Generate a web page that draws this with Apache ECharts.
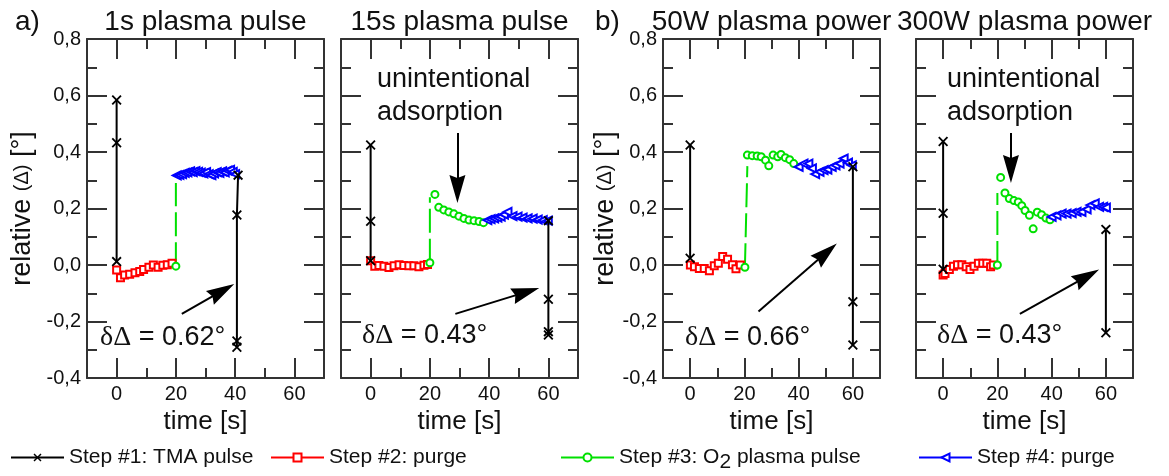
<!DOCTYPE html>
<html><head><meta charset="utf-8">
<script src="https://cdn.jsdelivr.net/npm/echarts@6/dist/echarts.min.js"></script>
<style>html,body{margin:0;padding:0;background:#fff}#c{width:1169px;height:476px}</style>
</head><body><div id="c"></div>
<script>
const FONT = '"Liberation Sans", Arial, Helvetica, sans-serif';
const SERIF = '"Liberation Serif", "Times New Roman", serif';

// ---- labels ----
const panelTitles = ['1s plasma pulse', '15s plasma pulse', '50W plasma power', '300W plasma power'];
const groupLabels = ['a)', 'b)'];
const xTickLabels = [0, 20, 40, 60];
const S1 = 'Step #1: TMA pulse', S2 = 'Step #2: purge', S3 = 'Step #3: O2 plasma pulse', S4 = 'Step #4: purge';
const deltaValues = ['0.62°', '0.43°', '0.66°', '0.43°'];

// ---- panel 1: 1s plasma pulse ----
const p1TmaStart = [[0,0.584],[0,0.433],[0,0.012]];
const p1Purge1 = [[0,-0.018],[1.3,-0.045],[2.7,-0.035],[4.4,-0.033],[6.2,-0.027],[7.8,-0.023],[9.1,-0.016],[10.9,-0.008],[12.4,0.0],[14,-0.008],[15.6,-0.001],[17.1,0.001],[18.7,0.006]];
const p1PlasmaRise = [[20,-0.004],[20,0.29]];
const p1Plasma = [[20,-0.004]];
const p1Purge2 = [[20.3,0.317],[21.2,0.319],[22.1,0.322],[23,0.326],[23.9,0.328],[24.8,0.331],[25.7,0.329],[26.6,0.332],[27.5,0.33],[28.4,0.327],[29.3,0.324],[30.2,0.329],[31.1,0.322],[32,0.318],[32.9,0.324],[33.8,0.329],[34.7,0.326],[35.6,0.331],[36.5,0.328],[37.4,0.334],[38.3,0.337],[39.2,0.33],[40,0.322]];
const p1TmaEnd = [[41,0.318],[40.6,0.177],[40.6,-0.269],[40.6,-0.291]];

// ---- panel 2: 15s plasma pulse ----
const p2TmaStart = [[0,0.425],[0,0.155],[0,0.015]];
const p2Purge1 = [[0,0.015],[1.4,-0.004],[2.8,-0.002],[4.5,-0.004],[6.2,-0.009],[7.9,-0.003],[9.6,0.001],[11.2,-0.002],[12.9,-0.003],[14.6,-0.003],[16.3,-0.006],[18,-0.001],[19.2,0.002]];
const p2PlasmaRise = [[20,0.008],[20,0.24]];
const p2Plasma = [[20,0.008],[21.7,0.25],[23,0.204],[24.7,0.195],[26.4,0.188],[28.1,0.181],[29.8,0.173],[31.5,0.165],[33.2,0.159],[34.9,0.157],[36.6,0.154],[38.1,0.15]];
const p2Purge2 = [[39.4,0.159],[40.5,0.162],[41.7,0.165],[42.8,0.168],[43.9,0.171],[45,0.178],[46.2,0.188],[47.9,0.173],[49.6,0.171],[51.3,0.168],[53,0.165],[54.7,0.164],[56.4,0.161],[58.1,0.159],[59.8,0.157]];
const p2TmaEnd = [[60,0.157],[60,-0.121],[60,-0.236],[60,-0.248]];

// ---- panel 3: 50W plasma power ----
const p3TmaStart = [[0,0.425],[0,0.024]];
const p3Purge1 = [[0.1,0.0],[1.6,-0.006],[3.4,-0.012],[5.2,-0.012],[7.1,-0.02],[8.9,-0.003],[10.4,0.006],[12,0.03],[13.8,0.02],[15.6,0.001],[16.9,-0.013],[18.5,0.0]];
const p3PlasmaRise = [[20.2,-0.008],[21.1,0.35]];
const p3Plasma = [[20.2,-0.008],[21.1,0.389],[22.9,0.387],[24.7,0.386],[26.2,0.383],[27.8,0.371],[29,0.351],[30.6,0.389],[32.3,0.383],[33.5,0.391],[35.1,0.38],[36.7,0.373],[38.2,0.359]];
const p3Purge2 = [[40,0.347],[41.8,0.359],[43.6,0.359],[44.9,0.342],[46.1,0.322],[47.7,0.33],[49.2,0.336],[50.6,0.338],[52.2,0.347],[53.6,0.353],[55.1,0.359],[56.6,0.377],[58.2,0.362],[59.6,0.353]];
const p3TmaEnd = [[60,0.348],[60,-0.13],[60,-0.283]];

// ---- panel 4: 300W plasma power ----
const p4TmaStart = [[0,0.437],[0,0.183],[0,-0.015]];
const p4Purge1 = [[0,-0.035],[0.7,-0.03],[2.3,-0.016],[3.8,-0.004],[5.3,0.001],[6.9,0.001],[8.5,-0.006],[9.9,-0.016],[11.4,-0.004],[13,0.006],[14.6,0.006],[16.1,0.006],[17.5,-0.006],[18.5,0.0]];
const p4PlasmaRise = [[20,0.0],[20,0.255]];
const p4Plasma = [[20,0.0],[21.2,0.31],[22.8,0.255],[24.4,0.235],[26.1,0.228],[27.7,0.223],[29,0.21],[30.2,0.193],[31.8,0.176],[33.2,0.128],[34.7,0.187],[36.3,0.178],[37.9,0.166],[39.4,0.16]];
const p4Purge2 = [[40,0.17],[41.8,0.176],[43.7,0.182],[45.5,0.182],[47.4,0.184],[49.2,0.188],[51,0.188],[52.9,0.197],[54.3,0.212],[55.9,0.218],[57.5,0.206],[59,0.206],[60,0.203]];
const p4TmaEnd = [[60,0.126],[60,-0.24]];

// ---- annotation arrows (data coords: start, head centre) ----
const arrows = [
  [[[22,-0.173],[35.6,-0.092]]],
  [[[28.6,-0.173],[52.4,-0.096]], [[29.3,0.467],[29.3,0.269]]],
  [[[25.2,-0.165],[50.2,0.044]]],
  [[[28.3,-0.173],[53.0,-0.040]], [[25.0,0.467],[25.0,0.340]]]
];

const panels = [
  {tmaS:p1TmaStart, pu1:p1Purge1, rise:p1PlasmaRise, pl:p1Plasma, pu2:p1Purge2, tmaE:p1TmaEnd},
  {tmaS:p2TmaStart, pu1:p2Purge1, rise:p2PlasmaRise, pl:p2Plasma, pu2:p2Purge2, tmaE:p2TmaEnd},
  {tmaS:p3TmaStart, pu1:p3Purge1, rise:p3PlasmaRise, pl:p3Plasma, pu2:p3Purge2, tmaE:p3TmaEnd},
  {tmaS:p4TmaStart, pu1:p4Purge1, rise:p4PlasmaRise, pl:p4Plasma, pu2:p4Purge2, tmaE:p4TmaEnd}
];

const gridBoxes = [{left:87,width:237},{left:341,width:237},{left:663,width:217},{left:916,width:217}];
const BLACK = '#000', RED = '#ff0000', GREEN = '#00e000', BLUE = '#0000ff', AX = '#333';
const XSYM = 'path://M0,1.3 L1.3,0 L5,3.7 L8.7,0 L10,1.3 L6.3,5 L10,8.7 L8.7,10 L5,6.3 L1.3,10 L0,8.7 L3.7,5 Z';
const ARROW = 'path://M8,0 L16,28 L8,25 L0,28 Z';

const grid = gridBoxes.map(g => ({left:g.left, top:39, width:g.width, height:339, containLabel:false}));

const txt = {color:'#111', fontFamily:FONT};
const xAxis = [], yAxis = [];
gridBoxes.forEach((g, i) => {
  ['bottom','top'].forEach(pos => {
    xAxis.push({
      type:'value', gridIndex:i, position:pos, min:-10, max:70, interval:20,
      axisLine:{show:true, onZero:false, lineStyle:{color:AX, width:2}},
      axisTick:{show:true, inside:true, length:10, lineStyle:{color:AX, width:2}},
      minorTick:{show:true, splitNumber:2, length:20, lineStyle:{color:AX, width:2}},
      splitLine:{show:false}, minorSplitLine:{show:false},
      axisLabel: pos === 'bottom' ? Object.assign({show:true, customValues:xTickLabels, margin:6, fontSize:20}, txt) : {show:false},
      name: pos === 'bottom' ? 'time [s]' : '',
      nameLocation:'middle', nameGap:28,
      nameTextStyle: Object.assign({fontSize:26}, txt)
    });
  });
  ['left','right'].forEach(pos => {
    const lab = pos === 'left' && (i === 0 || i === 2);
    yAxis.push({
      type:'value', gridIndex:i, position:pos, min:-0.4, max:0.8, interval:0.2,
      axisLine:{show:true, onZero:false, lineStyle:{color:AX, width:2}},
      axisTick:{show:true, inside:true, length:20, lineStyle:{color:AX, width:2}},
      minorTick:{show:true, splitNumber:2, length:10, lineStyle:{color:AX, width:2}},
      splitLine:{show:false}, minorSplitLine:{show:false},
      axisLabel: lab ? Object.assign({show:true, margin:6, fontSize:20,
        formatter: v => (Math.round(v*10)/10).toFixed(1).replace('.', ',')}, txt) : {show:false},
      name: lab ? '{a|relative }{b|(Δ)}{a| [°]}' : '',
      nameLocation:'middle', nameRotate:90, nameGap: i === 0 ? 51 : 43,
      nameTextStyle: {rich:{a:Object.assign({fontSize:27}, txt), b:Object.assign({fontSize:20}, txt)}}
    });
  });
});

const series = [];
panels.forEach((p, i) => {
  const ax = {xAxisIndex:2*i, yAxisIndex:2*i};
  series.push(Object.assign({type:'line', name:S1, data:p.tmaS, symbol:XSYM, symbolSize:10,
    itemStyle:{color:BLACK}, lineStyle:{color:BLACK, width:2}, z:5}, ax));
  series.push(Object.assign({type:'line', name:S2, data:p.pu1, symbol:'emptyRect', symbolSize:7,
    itemStyle:{color:RED, borderColor:RED, borderWidth:1.5}, lineStyle:{color:RED, width:0}, z:3}, ax));
  series.push(Object.assign({type:'line', name:S3, data:p.pl, symbol:'emptyCircle', symbolSize:7,
    itemStyle:{color:GREEN, borderColor:GREEN, borderWidth:1.5}, lineStyle:{color:GREEN, width:0}, z:3}, ax));
  series.push(Object.assign({type:'line', name:S3, data:p.rise, symbol:'none',
    itemStyle:{color:GREEN}, lineStyle:{color:GREEN, width:2, type:[24,6]}, z:2}, ax));
  series.push(Object.assign({type:'line', name:S4, data:p.pu2, symbol:'emptyTriangle', symbolSize:8, symbolRotate:90,
    itemStyle:{color:BLUE, borderColor:BLUE, borderWidth:1.5}, lineStyle:{color:BLUE, width:0}, z:3}, ax));
  series.push(Object.assign({type:'line', name:S1, data:p.tmaE, symbol:XSYM, symbolSize:10,
    itemStyle:{color:BLACK}, lineStyle:{color:BLACK, width:2}, z:5,
    markLine:{silent:true, animation:false, symbol:['none', ARROW], symbolSize:[1, [16,28]],
      label:{show:false}, lineStyle:{color:BLACK, width:2, type:'solid'},
      emphasis:{disabled:true},
      data: arrows[i].map(a => [{coord:a[0]}, {coord:a[1], symbolSize:[16,28]}])}
  }, ax));
});

const LEG_FS = 21;
const legendBase = {orient:'horizontal', top:447, itemWidth:53, itemHeight:10, itemGap:0, selectedMode:false,
  textStyle:Object.assign({fontSize:LEG_FS}, txt), lineStyle:{width:2}, padding:0};
const legend = [
  Object.assign({}, legendBase, {left:10, data:[S1]}),
  Object.assign({}, legendBase, {left:270, data:[S2]}),
  Object.assign({}, legendBase, {left:560, data:[S3],
    formatter: () => '{n|Step #3: O}{s|2}{n| plasma pulse}',
    textStyle:Object.assign({fontSize:LEG_FS}, txt, {rich:{n:Object.assign({fontSize:LEG_FS}, txt), s:Object.assign({fontSize:LEG_FS, padding:[10,0,0,0]}, txt)}})}),
  Object.assign({}, legendBase, {left:918, data:[S4]})
];

const tStyle = (text, size, align) => ({text, fill:'#111', font: size + 'px ' + FONT, align, verticalAlign:'middle'});
const dStyle = (val) => ({
  text: '{g|δΔ}{t| = ' + val + '}', align:'left', verticalAlign:'middle',
  rich:{g:{fontSize:28, fontFamily:SERIF, fill:'#111'}, t:{fontSize:27, fontFamily:FONT, fill:'#111'}}
});
const graphic = [
  {type:'text', x:15, y:22, style:tStyle(groupLabels[0], 28, 'left')},
  {type:'text', x:595, y:22, style:tStyle(groupLabels[1], 28, 'left')},
  ...gridBoxes.map((g, i) => ({type:'text', x:g.left + g.width/2, y:22, style:tStyle(panelTitles[i], 28, 'center')})),
  {type:'text', x:377, y:80, style:tStyle('unintentional', 27, 'left')},
  {type:'text', x:377, y:113, style:tStyle('adsorption', 27, 'left')},
  {type:'text', x:947, y:80, style:tStyle('unintentional', 27, 'left')},
  {type:'text', x:947, y:113, style:tStyle('adsorption', 27, 'left')},
  {type:'text', x:100, y:338, style:dStyle(deltaValues[0])},
  {type:'text', x:362, y:336, style:dStyle(deltaValues[1])},
  {type:'text', x:685, y:338, style:dStyle(deltaValues[2])},
  {type:'text', x:937, y:336, style:dStyle(deltaValues[3])}
];

const chart = echarts.init(document.getElementById('c'), null, {renderer:'canvas'});
chart.setOption({
  backgroundColor:'#fff', animation:false, tooltip:{show:false},
  grid, xAxis, yAxis, series, legend, graphic
});
</script></body></html>
